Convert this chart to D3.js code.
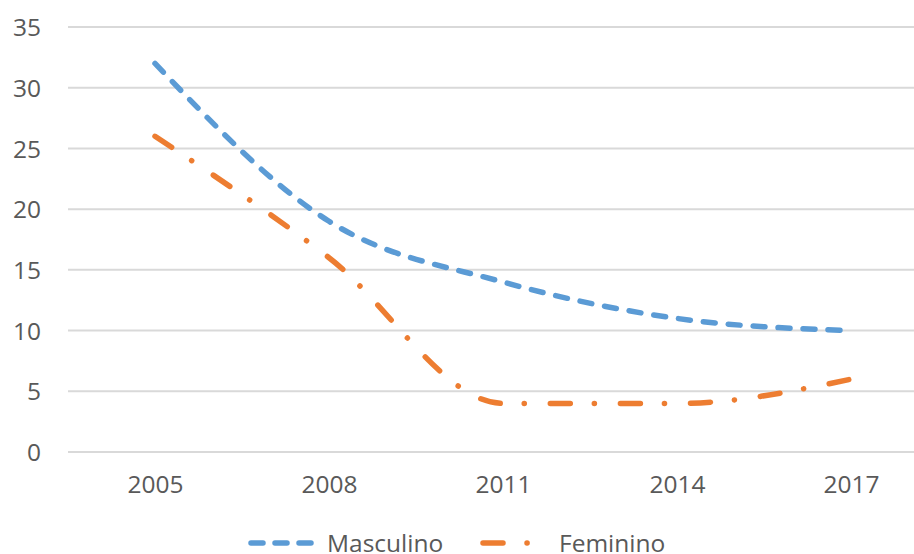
<!DOCTYPE html>
<html>
<head>
<meta charset="utf-8">
<script src="https://cdn.jsdelivr.net/npm/d3@7"></script>
<style>
  body { margin: 0; background: #fff; }
  svg text { font-family: "Open Sans", "Noto Sans", sans-serif; fill: #595959; }
</style>
</head>
<body>
<div id="chart"></div>
<script>
// chart data
var years = ["2005", "2008", "2011", "2014", "2017"];
var masculino = [32, 19, 14, 11, 10];
var feminino = [26, 16, 4, 4, 6];
var yTicks = [0, 5, 10, 15, 20, 25, 30, 35];

document.addEventListener("DOMContentLoaded", function () {
    var width = 914, height = 554;

    var svg = d3.select("#chart")
        .append("svg")
        .attr("width", width)
        .attr("height", height);

    // scales
    var x = d3.scalePoint()
        .domain(years)
        .range([155, 851]);

    var y = d3.scaleLinear()
        .domain([0, 35])
        .range([452, 27]);

    // gridlines
    svg.append("g")
        .selectAll("line")
        .data(yTicks)
        .join("line")
        .attr("x1", 68)
        .attr("x2", width)
        .attr("y1", d => y(d))
        .attr("y2", d => y(d))
        .attr("stroke", "#d9d9d9")
        .attr("stroke-width", 2);

    // y axis labels
    var yAxis = svg.append("g")
        .attr("transform", "translate(41,0)")
        .call(d3.axisLeft(y).tickValues(yTicks).tickSize(0).tickPadding(0));
    yAxis.select(".domain").remove();
    yAxis.selectAll("text")
        .style("font-size", "24.5px")
        .attr("fill", "#595959")
        .attr("dy", "0.35em");

    // x axis labels
    var xAxis = svg.append("g")
        .attr("transform", "translate(0,476)")
        .call(d3.axisBottom(x).tickSize(0).tickPadding(0));
    xAxis.select(".domain").remove();
    xAxis.selectAll("text")
        .style("font-size", "24.5px")
        .attr("fill", "#595959")
        .attr("dy", "0.71em");

    var line = d3.line()
        .x((d, i) => x(years[i]))
        .y(d => y(d))
        .curve(d3.curveMonotoneX);

    var series = [
        { name: "Masculino", values: masculino, color: "#5b9bd5", dash: "12 13" },
        { name: "Feminino", values: feminino, color: "#ed7d31", dash: "20 24 0.1 26" }
    ];

    series.forEach(function (s) {
        svg.append("path")
            .datum(s.values)
            .attr("d", line)
            .attr("fill", "none")
            .attr("stroke", s.color)
            .attr("stroke-width", 5.5)
            .attr("stroke-linecap", "round")
            .attr("stroke-dasharray", s.dash);
    });

    // legend
    var legendY = 543;
    var legendItems = [
        { s: series[0], x1: 251, x2: 315, tx: 327, dash: "12 12" },
        { s: series[1], x1: 483, x2: 532, tx: 559, dash: "20 24 0.1 26" }
    ];
    legendItems.forEach(function (d) {
        svg.append("line")
            .attr("x1", d.x1)
            .attr("x2", d.x2)
            .attr("y1", legendY)
            .attr("y2", legendY)
            .attr("stroke", d.s.color)
            .attr("stroke-width", 5.5)
            .attr("stroke-linecap", "round")
            .attr("stroke-dasharray", d.dash);
        svg.append("text")
            .attr("x", d.tx)
            .attr("y", legendY)
            .attr("dy", "0.35em")
            .style("font-size", "24.5px")
            .text(d.s.name);
    });
});
</script>
</body>
</html>
